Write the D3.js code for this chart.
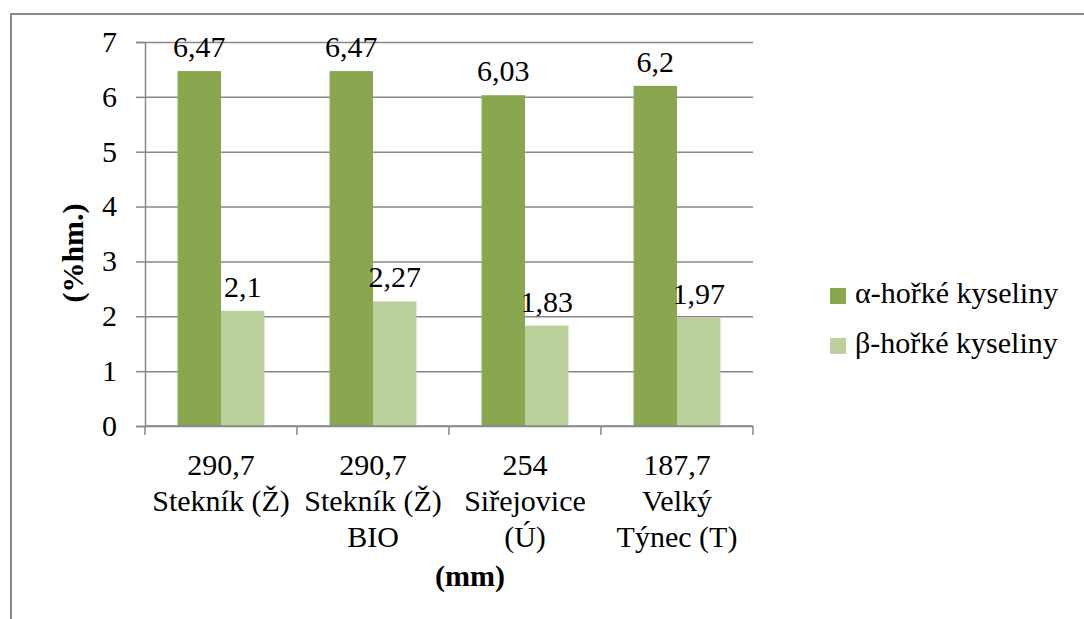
<!DOCTYPE html>
<html>
<head>
<meta charset="utf-8">
<script src="https://cdn.jsdelivr.net/npm/d3@7"></script>
</head>
<body style="margin:0">
<script>
// categories (multi-line labels)
const categories = [
    ["290,7", "Stekník (Ž)"],
    ["290,7", "Stekník (Ž)", "BIO"],
    ["254", "Siřejovice", "(Ú)"],
    ["187,7", "Velký", "Týnec (T)"]
]
const seriesNames = ["α-hořké kyseliny", "β-hořké kyseliny"]
const alphaValues = [6.47, 6.47, 6.03, 6.2]
const betaValues = [2.1, 2.27, 1.83, 1.97]
const yTicks = [0, 1, 2, 3, 4, 5, 6, 7]
const colors = ["#8aa74f", "#bbd09a"]

const width = 1084
const height = 619
const plotL = 145, plotR = 753, plotT = 42, plotB = 426
const fs = 30

const svg = d3.select('body')
    .append('svg')
    .attr('width', width)
    .attr('height', height)

// outer frame
svg.append('path')
    .attr('d', `M11,${height} V14 H${width}`)
    .attr('fill', 'none')
    .attr('stroke', '#8a8a8a')
    .attr('stroke-width', 2)

const y = d3.scaleLinear().domain([0, 7]).range([plotB, plotT])
const x = d3.scaleBand().domain(d3.range(categories.length)).range([plotL, plotR]).paddingInner(0).paddingOuter(0)
const inner = d3.scaleBand().domain([0, 1]).range([0, x.bandwidth()]).paddingOuter(0.75).paddingInner(0)

// gridlines + y axis (lines only, labels drawn below at top level)
const yAxis = svg.append('g')
    .attr('transform', `translate(${plotL},0)`)
    .call(d3.axisLeft(y).tickValues(yTicks).tickSize(9).tickFormat(''))
yAxis.select('.domain').attr('stroke', '#888').attr('stroke-width', 1.5)
yAxis.selectAll('.tick line').attr('stroke', '#888').attr('stroke-width', 1.5)
yAxis.selectAll('.tick text').remove()
yAxis.selectAll('.tick').append('line')
    .attr('x1', 0).attr('x2', plotR - plotL)
    .attr('stroke', '#888').attr('stroke-width', 1.5)

// bars
const bars = []
categories.forEach((c, i) => {
    bars.push({ i, k: 0, v: alphaValues[i] })
    bars.push({ i, k: 1, v: betaValues[i] })
})

svg.selectAll('.bar')
    .data(bars)
    .join('rect')
    .attr('class', 'bar')
    .attr('x', d => x(d.i) + inner(d.k))
    .attr('width', inner.bandwidth())
    .attr('y', d => y(d.v))
    .attr('height', d => y(0) - y(d.v))
    .attr('fill', d => colors[d.k])

// x axis
svg.append('line')
    .attr('x1', plotL).attr('x2', plotR)
    .attr('y1', plotB).attr('y2', plotB)
    .attr('stroke', '#888').attr('stroke-width', 1.5)
svg.selectAll('.xt')
    .data(d3.range(categories.length + 1))
    .join('line')
    .attr('class', 'xt')
    .attr('x1', d => plotL + d * x.bandwidth()).attr('x2', d => plotL + d * x.bandwidth())
    .attr('y1', plotB).attr('y2', plotB + 9)
    .attr('stroke', '#888').attr('stroke-width', 1.5)

// legend swatches
svg.selectAll('.sw')
    .data(seriesNames)
    .join('rect')
    .attr('class', 'sw')
    .attr('x', 830).attr('y', (d, k) => 288 + k * 50)
    .attr('width', 16).attr('height', 16)
    .attr('fill', (d, k) => colors[k])

// ---- all text directly on the svg ----
svg.selectAll('.ytl')
    .data(yTicks)
    .join('text')
    .attr('class', 'ytl')
    .attr('x', plotL - 28)
    .attr('y', d => y(d))
    .attr('dy', '0.33em')
    .attr('text-anchor', 'end')
    .text(d => d)

svg.selectAll('.lbl')
    .data(bars)
    .join('text')
    .attr('class', 'lbl')
    .attr('x', d => x(d.i) + inner(d.k) + inner.bandwidth() / 2)
    .attr('y', d => y(d.v) - 14)
    .attr('text-anchor', 'middle')
    .text(d => String(d.v).replace('.', ','))

const catLines = []
categories.forEach((lines, i) => lines.forEach((s, j) => catLines.push({ i, j, s })))
svg.selectAll('.cat')
    .data(catLines)
    .join('text')
    .attr('class', 'cat')
    .attr('x', d => x(d.i) + x.bandwidth() / 2)
    .attr('y', d => plotB + 49 + d.j * 36)
    .attr('text-anchor', 'middle')
    .text(d => d.s)

svg.selectAll('.leg')
    .data(seriesNames)
    .join('text')
    .attr('class', 'leg')
    .attr('x', 855).attr('y', (d, k) => 303 + k * 50)
    .text(d => d)

svg.append('text')
    .attr('class', 'ttl')
    .attr('x', 470).attr('y', 586)
    .attr('text-anchor', 'middle')
    .text('(mm)')

svg.append('text')
    .attr('class', 'ttl')
    .attr('transform', 'translate(83,253) rotate(-90)')
    .attr('text-anchor', 'middle')
    .text('(%hm.)')

svg.selectAll('text')
    .attr('font-family', '"Liberation Serif"')
    .attr('font-size', fs)
    .attr('fill', '#000')
svg.selectAll('.ttl')
    .attr('font-weight', 'bold')
</script>
</body>
</html>
